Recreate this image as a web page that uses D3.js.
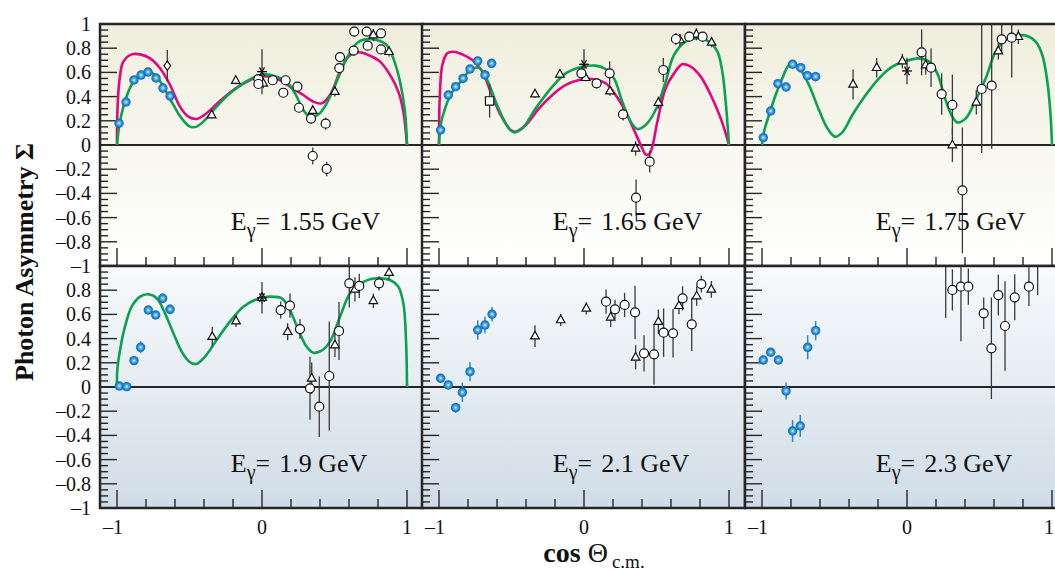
<!DOCTYPE html>
<html>
<head>
<meta charset="utf-8">
<script src="https://d3js.org/d3.v7.min.js"></script>
<style>
  body { margin: 0; background: white; }
  svg { font-family: "Liberation Serif", "DejaVu Serif", serif; }
  .frame { fill: none; stroke: #262626; stroke-width: 2.5px; }
  .zero { stroke: #262626; stroke-width: 2.2px; }
  .tick { stroke: #262626; stroke-width: 1.4px; }
  .err { stroke: #3a3a3a; stroke-width: 1.3px; }
  .err-blue { stroke: #2a86cc; stroke-width: 1.5px; }
  .open { fill: white; stroke: #111; stroke-width: 1.2px; }
  .star { stroke: #111; stroke-width: 1.3px; }
  .green { fill: none; stroke: #0aa24e; stroke-width: 2.6px; }
  .magenta { fill: none; stroke: #e4057f; stroke-width: 2.6px; }
</style>
</head>
<body>
<div id="chart"></div>
<script>
// ---- data: [cos theta, sigma, error] ----
var energies = ["1.55", "1.65", "1.75", "1.9", "2.1", "2.3"];
var sigmaTicks = [1, 0.8, 0.6, 0.4, 0.2, 0, -0.2, -0.4, -0.6, -0.8, -1];
var sigmaLabels = ["1", "0.8", "0.6", "0.4", "0.2", "0", "–0.2", "–0.4", "–0.6", "–0.8", "–1"];
var cosTicks = [-1, 0, 1];
var cosLabels = ["–1", "0", "1"];

var blue155 = [[-0.986,0.18,0.03],[-0.938,0.355,0.03],[-0.883,0.537,0.03],[-0.834,0.578,0.03],[-0.786,0.603,0.03],[-0.731,0.554,0.03],[-0.683,0.471,0.04],[-0.634,0.405,0.04]];
var circ155 = [[-0.025,0.545,0.03],[-0.025,0.504,0.03],[0.074,0.535,0.03],[0.163,0.535,0.04],[0.147,0.432,0.03],[0.244,0.482,0.03],[0.255,0.308,0.03],[0.338,0.218,0.04],[0.439,0.176,0.05],[0.35,-0.091,0.07],[0.446,-0.198,0.06],[0.533,0.636,0.03],[0.538,0.727,0.04],[0.632,0.78,0.04],[0.636,0.937,0.04],[0.722,0.937,0.03],[0.821,0.923,0.03],[0.729,0.821,0.03],[0.821,0.79,0.03]];
var tri155 = [[-0.347,0.248,0.03],[-0.181,0.532,0.03],[0.009,0.51,0.04],[0.35,0.284,0.04],[0.503,0.441,0.04],[0.768,0.909,0.05],[0.876,0.771,0.04]];
var star155 = [[0,0.606,0.186]];
var diam155 = [[-0.653,0.655,0.13]];
var green155 = [[-1,0],[-0.984,0.165],[-0.956,0.317],[-0.922,0.441],[-0.887,0.523],[-0.841,0.579],[-0.784,0.606],[-0.726,0.565],[-0.669,0.455],[-0.611,0.331],[-0.554,0.22],[-0.497,0.152],[-0.451,0.152],[-0.393,0.207],[-0.313,0.317],[-0.221,0.427],[-0.129,0.51],[-0.037,0.57],[0.032,0.584],[0.101,0.565],[0.17,0.523],[0.228,0.427],[0.285,0.289],[0.331,0.234],[0.389,0.253],[0.446,0.344],[0.515,0.523],[0.584,0.716],[0.653,0.84],[0.71,0.873],[0.791,0.868],[0.86,0.826],[0.906,0.716],[0.952,0.523],[0.986,0.275],[1,0]];
var mag155 = [[-1,0],[-0.998,0.248],[-0.984,0.523],[-0.956,0.689],[-0.899,0.749],[-0.841,0.749],[-0.772,0.716],[-0.703,0.634],[-0.634,0.496],[-0.566,0.317],[-0.508,0.234],[-0.451,0.215],[-0.382,0.262],[-0.29,0.364],[-0.198,0.455],[-0.106,0.523],[-0.014,0.565],[0.055,0.565],[0.124,0.537],[0.193,0.482],[0.285,0.413],[0.354,0.358],[0.411,0.344],[0.469,0.413],[0.538,0.606],[0.595,0.73],[0.664,0.766],[0.733,0.744],[0.814,0.689],[0.883,0.579],[0.94,0.441],[0.975,0.275],[1,0]];

var blue165 = [[-0.989,0.124,0.03],[-0.936,0.413,0.03],[-0.885,0.482,0.03],[-0.834,0.551,0.03],[-0.786,0.628,0.03],[-0.733,0.694,0.03],[-0.683,0.579,0.04],[-0.637,0.675,0.04]];
var circ165 = [[-0.018,0.592,0.03],[0.087,0.51,0.04],[0.177,0.592,0.1],[0.269,0.253,0.05],[0.453,-0.138,0.09],[0.359,-0.435,0.15],[0.547,0.62,0.1],[0.634,0.876,0.05],[0.726,0.895,0.04],[0.818,0.895,0.04]];
var tri165 = [[-0.338,0.421,0.03],[-0.166,0.584,0.03],[0.011,0.556,0.03],[0.179,0.446,0.04],[0.356,-0.028,0.06],[0.513,0.35,0.05],[0.662,0.868,0.05],[0.775,0.915,0.05],[0.88,0.848,0.04]];
var star165 = [[0,0.667,0.124]];
var sq165 = [[-0.651,0.364,0.138]];
var green165 = [[-1,0],[-0.989,0.165],[-0.954,0.317],[-0.908,0.441],[-0.851,0.523],[-0.782,0.62],[-0.724,0.639],[-0.667,0.537],[-0.609,0.358],[-0.54,0.179],[-0.487,0.105],[-0.425,0.138],[-0.333,0.303],[-0.218,0.482],[-0.126,0.592],[-0.011,0.647],[0.08,0.656],[0.149,0.628],[0.207,0.551],[0.264,0.358],[0.322,0.193],[0.368,0.132],[0.425,0.165],[0.494,0.289],[0.563,0.523],[0.621,0.744],[0.701,0.854],[0.793,0.882],[0.862,0.854],[0.92,0.771],[0.954,0.606],[0.977,0.358],[1,0]];
var mag165 = [[-1,0],[-0.995,0.386],[-0.977,0.661],[-0.943,0.758],[-0.897,0.771],[-0.839,0.749],[-0.77,0.702],[-0.701,0.606],[-0.644,0.441],[-0.575,0.248],[-0.506,0.124],[-0.471,0.11],[-0.402,0.165],[-0.31,0.303],[-0.218,0.413],[-0.126,0.496],[-0.034,0.537],[0.057,0.545],[0.149,0.51],[0.218,0.413],[0.287,0.275],[0.345,0.124],[0.402,-0.028],[0.425,-0.077],[0.448,-0.077],[0.471,-0.014],[0.506,0.193],[0.563,0.468],[0.621,0.592],[0.678,0.667],[0.736,0.647],[0.805,0.565],[0.874,0.413],[0.943,0.22],[1,0]];

var blue175 = [[-0.991,0.061,0.03],[-0.94,0.281,0.03],[-0.89,0.507,0.03],[-0.834,0.479,0.03],[-0.789,0.667,0.03],[-0.733,0.639,0.03],[-0.687,0.573,0.04],[-0.63,0.565,0.04]];
var circ175 = [[0.101,0.766,0.19],[0.166,0.639,0.16],[0.239,0.421,0.17],[0.313,0.331,0.25],[0.382,-0.375,0.52],[0.515,0.463,0.53],[0.584,0.49,0.52],[0.653,0.873,0.12],[0.722,0.887,0.33]];
var tri175 = [[-0.372,0.501,0.124],[-0.209,0.639,0.08],[-0.032,0.694,0.06],[0.129,0.661,0.08],[0.313,0,0.14],[0.478,0.353,0.1],[0.63,0.777,0.07],[0.768,0.895,0.06]];
var star175 = [[0,0.612,0.11]];
var green175 = [[-1,0],[-0.986,0.11],[-0.952,0.248],[-0.906,0.413],[-0.86,0.551],[-0.814,0.661],[-0.779,0.675],[-0.733,0.62],[-0.676,0.496],[-0.607,0.289],[-0.549,0.138],[-0.497,0.069],[-0.446,0.105],[-0.377,0.248],[-0.285,0.413],[-0.193,0.551],[-0.101,0.647],[-0.009,0.694],[0.083,0.716],[0.152,0.689],[0.209,0.592],[0.255,0.413],[0.301,0.262],[0.347,0.187],[0.405,0.22],[0.474,0.372],[0.543,0.551],[0.611,0.771],[0.68,0.868],[0.749,0.904],[0.818,0.904],[0.887,0.854],[0.933,0.744],[0.968,0.523],[0.99,0.248],[1,0]];

var blue19 = [[-0.984,0.008,0.03],[-0.933,0.003,0.03],[-0.883,0.218,0.03],[-0.837,0.328,0.05],[-0.784,0.636,0.03],[-0.733,0.595,0.03],[-0.685,0.733,0.04],[-0.634,0.642,0.04]];
var circ19 = [[0.129,0.636,0.07],[0.193,0.672,0.1],[0.262,0.479,0.08],[0.331,-0.011,0.26],[0.395,-0.163,0.25],[0.464,0.091,0.45],[0.531,0.463,0.24],[0.602,0.857,0.2],[0.671,0.835,0.1],[0.807,0.857,0.06]];
var tri19 = [[-0.343,0.416,0.08],[-0.179,0.545,0.05],[0,0.738,0.05],[0.177,0.457,0.07],[0.343,0.072,0.13],[0.503,0.347,0.1],[0.641,0.807,0.1],[0.768,0.713,0.06],[0.876,0.945,0.06]];
var star19 = [[0,0.738,0.13]];
var green19 = [[-1,0],[-0.998,0.14],[-0.979,0.306],[-0.945,0.499],[-0.899,0.664],[-0.841,0.747],[-0.784,0.766],[-0.726,0.733],[-0.669,0.609],[-0.611,0.444],[-0.554,0.292],[-0.501,0.209],[-0.455,0.19],[-0.393,0.251],[-0.313,0.388],[-0.221,0.54],[-0.129,0.664],[-0.037,0.725],[0.055,0.747],[0.136,0.733],[0.193,0.636],[0.251,0.471],[0.308,0.333],[0.354,0.284],[0.411,0.3],[0.469,0.375],[0.538,0.581],[0.607,0.774],[0.676,0.851],[0.745,0.89],[0.814,0.898],[0.883,0.884],[0.94,0.829],[0.975,0.691],[0.994,0.361],[1,0]];

var blue21 = [[-0.989,0.072,0.03],[-0.936,0.017,0.03],[-0.885,-0.171,0.04],[-0.839,-0.044,0.08],[-0.786,0.127,0.08],[-0.733,0.471,0.08],[-0.683,0.512,0.07],[-0.634,0.601,0.06]];
var circ21 = [[0.152,0.705,0.1],[0.214,0.642,0.08],[0.28,0.678,0.1],[0.352,0.617,0.22],[0.414,0.278,0.15],[0.483,0.27,0.25],[0.549,0.449,0.2],[0.614,0.444,0.2],[0.68,0.733,0.1],[0.743,0.518,0.22],[0.809,0.851,0.07]];
var tri21 = [[-0.338,0.421,0.09],[-0.161,0.554,0.05],[0.016,0.65,0.05],[0.184,0.576,0.08],[0.356,0.245,0.1],[0.513,0.54,0.1],[0.655,0.672,0.07],[0.777,0.752,0.08],[0.878,0.807,0.07]];

var blue23 = [[-0.991,0.223,0.03],[-0.94,0.287,0.03],[-0.887,0.223,0.03],[-0.834,-0.033,0.07],[-0.789,-0.364,0.09],[-0.736,-0.322,0.09],[-0.685,0.328,0.1],[-0.63,0.466,0.08]];
var circ23 = [[0.267,1.05,0.48],[0.313,0.802,0.17],[0.372,0.829,0.45],[0.423,0.829,0.15],[0.529,0.609,0.13],[0.582,0.32,0.42],[0.63,0.76,0.17],[0.676,0.504,0.37],[0.743,0.741,0.19],[0.841,0.829,0.16],[0.901,1.1,0.34]];

var panels = [
  {blue: blue155, circle: circ155, triangle: tri155, star: star155, diamond: diam155, curves: [mag155, green155]},
  {blue: blue165, circle: circ165, triangle: tri165, star: star165, square: sq165, curves: [mag165, green165]},
  {blue: blue175, circle: circ175, triangle: tri175, star: star175, curves: [null, green175]},
  {blue: blue19, circle: circ19, triangle: tri19, star: star19, curves: [null, green19]},
  {blue: blue21, circle: circ21, triangle: tri21, curves: []},
  {blue: blue23, circle: circ23, curves: []}
];

// ---- layout ----
var width = 1055, height = 572;
var colLeft = [100, 422, 745], colWidth = 323;
var rowTop = [24, 266], rowHeight = 242;

var svg = d3.select("#chart").append("svg")
  .attr("width", width)
  .attr("height", height)
  .style("background", "white");

var defs = svg.append("defs");
var gTop = defs.append("linearGradient").attr("id", "bg0").attr("x1", 0).attr("y1", 0).attr("x2", 0).attr("y2", 1);
gTop.append("stop").attr("offset", "0").attr("stop-color", "#efeedd");
gTop.append("stop").attr("offset", "0.5").attr("stop-color", "#f7f7ee");
gTop.append("stop").attr("offset", "1").attr("stop-color", "#ffffff");
var gBot = defs.append("linearGradient").attr("id", "bg1").attr("x1", 0).attr("y1", 0).attr("x2", 0).attr("y2", 1);
gBot.append("stop").attr("offset", "0").attr("stop-color", "#f8fafc");
gBot.append("stop").attr("offset", "0.5").attr("stop-color", "#e5ecf2");
gBot.append("stop").attr("offset", "1").attr("stop-color", "#cfdce7");
var gDot = defs.append("radialGradient").attr("id", "dot");
gDot.append("stop").attr("offset", "0").attr("stop-color", "#eaf7ff");
gDot.append("stop").attr("offset", "0.3").attr("stop-color", "#6cc0ee");
gDot.append("stop").attr("offset", "0.65").attr("stop-color", "#1f88d4");
gDot.append("stop").attr("offset", "1").attr("stop-color", "#1566ae");

var line = d3.line().curve(d3.curveCatmullRom.alpha(0.5));

panels.forEach(function (p, i) {
  var col = i % 3, row = Math.floor(i / 3);
  var left = colLeft[col], top = rowTop[row];
  var x = d3.scaleLinear().domain([-1, 1]).range([left + 17, left + 307]);
  var y = d3.scaleLinear().domain([-1, 1]).range([top + rowHeight, top]);
  var g = svg.append("g");

  defs.append("clipPath").attr("id", "clip" + i)
    .append("rect").attr("x", left).attr("y", top).attr("width", colWidth).attr("height", rowHeight);

  g.append("rect")
    .attr("x", left).attr("y", top).attr("width", colWidth).attr("height", rowHeight)
    .attr("fill", "url(#bg" + row + ")");

  // y ticks on the left edge
  d3.range(-20, 21).forEach(function (k) {
    var v = k * 0.05, major = (k % 4 === 0);
    g.append("line").attr("class", "tick")
      .attr("x1", left).attr("x2", left + (major ? 17 : 8))
      .attr("y1", y(v)).attr("y2", y(v));
  });
  // x ticks on the bottom edge
  d3.range(-5, 6).forEach(function (k) {
    var v = k * 0.2, major = (k % 5 === 0);
    g.append("line").attr("class", "tick")
      .attr("x1", x(v)).attr("x2", x(v))
      .attr("y1", top + rowHeight).attr("y2", top + rowHeight - (major ? 18 : 9));
  });

  g.append("line").attr("class", "zero")
    .attr("x1", left).attr("x2", left + colWidth)
    .attr("y1", y(0)).attr("y2", y(0));

  var plot = g.append("g").attr("clip-path", "url(#clip" + i + ")");

  p.curves.forEach(function (c, j) {
    if (!c) return;
    plot.append("path")
      .attr("class", j === 0 ? "magenta" : "green")
      .attr("d", line(c.map(function (d) { return [x(d[0]), y(d[1])]; })));
  });

  function errors(data, cls) {
    plot.selectAll(null).data(data).enter().append("line")
      .attr("class", cls)
      .attr("x1", function (d) { return x(d[0]); })
      .attr("x2", function (d) { return x(d[0]); })
      .attr("y1", function (d) { return y(d[1] - d[2]); })
      .attr("y2", function (d) { return y(d[1] + d[2]); });
  }
  function shapes(data, path) {
    plot.selectAll(null).data(data).enter().append("path")
      .attr("class", "open")
      .attr("d", path)
      .attr("transform", function (d) { return "translate(" + x(d[0]) + "," + y(d[1]) + ")"; });
  }

  ["triangle", "circle", "star", "diamond", "square"].forEach(function (k) {
    if (p[k]) errors(p[k], "err");
  });
  if (p.triangle) shapes(p.triangle, "M0,-4.8L4.3,2.8L-4.3,2.8Z");
  if (p.diamond) shapes(p.diamond, "M0,-4.6L3.3,0L0,4.6L-3.3,0Z");
  if (p.square) shapes(p.square, "M-4.2,-4.2H4.2V4.2H-4.2Z");
  if (p.circle) {
    plot.selectAll(null).data(p.circle).enter().append("circle")
      .attr("class", "open")
      .attr("cx", function (d) { return x(d[0]); })
      .attr("cy", function (d) { return y(d[1]); })
      .attr("r", 4.5);
  }
  if (p.star) {
    p.star.forEach(function (d) {
      [0, 60, 120].forEach(function (a) {
        var r = a * Math.PI / 180;
        plot.append("line").attr("class", "star")
          .attr("x1", x(d[0]) - 5 * Math.cos(r)).attr("x2", x(d[0]) + 5 * Math.cos(r))
          .attr("y1", y(d[1]) - 5 * Math.sin(r)).attr("y2", y(d[1]) + 5 * Math.sin(r));
      });
    });
  }
  errors(p.blue, "err-blue");
  plot.selectAll(null).data(p.blue).enter().append("circle")
    .attr("cx", function (d) { return x(d[0]); })
    .attr("cy", function (d) { return y(d[1]); })
    .attr("r", 4.7)
    .attr("fill", "url(#dot)");

  // energy label
  var t = g.append("text")
    .attr("x", x(-0.215)).attr("y", y(-0.7))
    .attr("font-size", 26).attr("fill", "#111");
  t.append("tspan").text("E");
  t.append("tspan").attr("dy", 7).attr("font-size", 20).text("γ");
  t.append("tspan").attr("dy", -7).text("=");
  t.append("tspan").attr("dx", 9).text(energies[i] + " GeV");

  g.append("rect").attr("class", "frame")
    .attr("x", left).attr("y", top).attr("width", colWidth).attr("height", rowHeight);

  // tick labels
  if (col === 0) {
    sigmaTicks.forEach(function (v, k) {
      if (row === 1 && k === 0) return;
      g.append("text")
        .attr("x", left - 9).attr("y", y(v) + 7)
        .attr("text-anchor", "end").attr("font-size", 20).attr("fill", "#111")
        .text(sigmaLabels[k]);
    });
  }
  if (row === 1) {
    cosTicks.forEach(function (v, k) {
      var tx = Math.min(x(v) + (v < 0 ? -4 : 0), width - 6);
      g.append("text")
        .attr("x", tx).attr("y", top + rowHeight + 26)
        .attr("text-anchor", "middle").attr("font-size", 20).attr("fill", "#111")
        .text(cosLabels[k]);
    });
  }
});

// axis titles
svg.append("text")
  .attr("transform", "translate(33,262) rotate(-90)")
  .attr("text-anchor", "middle")
  .attr("font-size", 26).attr("font-weight", "bold").attr("fill", "#111")
  .text("Photon Asymmetry Σ");

var xt = svg.append("text")
  .attr("x", 594).attr("y", 562)
  .attr("text-anchor", "middle").attr("fill", "#111");
xt.append("tspan").attr("font-size", 28).attr("font-weight", "bold").text("cos ");
xt.append("tspan").attr("font-size", 28).text("Θ");
xt.append("tspan").attr("font-size", 19).attr("dx", 4).attr("dy", 6).text("c.m.");
</script>
</body>
</html>
